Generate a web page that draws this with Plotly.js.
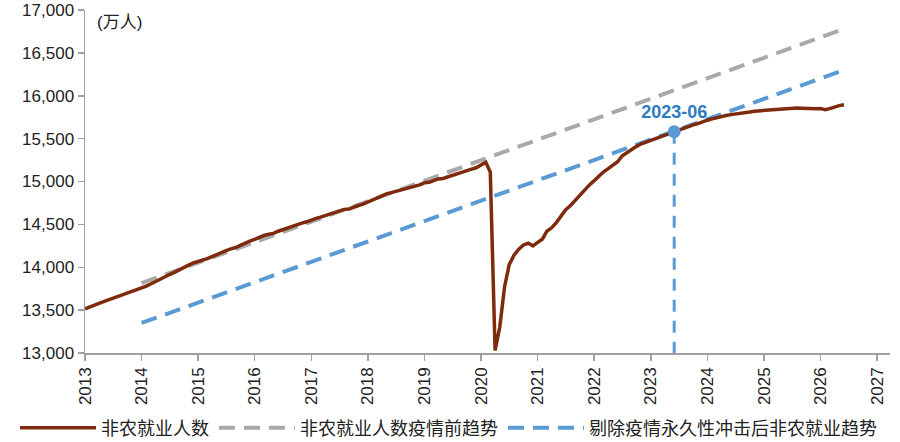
<!DOCTYPE html>
<html>
<head>
<meta charset="utf-8">
<script src="https://cdn.plot.ly/plotly-3.0.1.min.js"></script>
<style>
  html, body { margin: 0; padding: 0; background: #fff; }
  #chart { width: 900px; height: 442px; }
</style>
</head>
<body>
<div id="chart"></div>
<script>
// ---- Data (万人), monthly, starting 2013-01 ----
const startYear = 2013;
const payroll = [
  // 2013
  13515, 13540, 13560, 13580, 13600, 13620, 13635, 13655, 13675, 13700, 13720, 13735,
  // 2014
  13760, 13780, 13805, 13835, 13860, 13890, 13915, 13940, 13965, 13995, 14025, 14050,
  // 2015
  14065, 14085, 14100, 14125, 14150, 14170, 14195, 14215, 14230, 14255, 14285, 14305,
  // 2016
  14325, 14350, 14370, 14385, 14395, 14420, 14440, 14460, 14480, 14495, 14515, 14530,
  // 2017
  14555, 14570, 14585, 14605, 14620, 14640, 14660, 14675, 14680, 14705, 14720, 14735,
  // 2018
  14760, 14790, 14815, 14835, 14855, 14870, 14885, 14900, 14910, 14930, 14945, 14960,
  // 2019
  14985, 14990, 15010, 15030, 15035, 15055, 15075, 15090, 15110, 15125, 15145, 15160,
  // 2020
  15195, 15225, 15110, 13030, 13300, 13770, 14030, 14140, 14210, 14260, 14280, 14250,
  // 2021
  14290, 14330, 14420, 14460, 14520, 14590, 14670, 14720, 14780, 14850, 14910, 14960,
  // 2022
  15010, 15070, 15110, 15150, 15190, 15230, 15300, 15340, 15380, 15410, 15440, 15460,
  // 2023
  15480, 15500, 15525, 15545, 15560, 15580, 15600, 15620, 15640, 15660, 15675, 15700,
  // 2024
  15715, 15730, 15745, 15760, 15770, 15780, 15785, 15795, 15805, 15810, 15820, 15825,
  // 2025
  15830, 15835, 15840, 15845, 15848, 15850, 15855, 15858, 15855, 15850, 15852, 15848,
  // 2026
  15850, 15838, 15850, 15870, 15885, 15895
];

// Trend lines (start / end)
const trendDates = ['2014-01', '2026-06'];
const preCovidTrend = [13815, 16780];
const adjustedTrend = [13350, 16300];

// Highlighted point
const markDate = ['2023-06'];
const markValue = [15580];
const markLabel = ['2023-06'];
const axisFloor = 13000;

const seriesNames = ['非农就业人数', '非农就业人数疫情前趋势', '剔除疫情永久性冲击后非农就业趋势'];
const yearTicks = ['2013','2014','2015','2016','2017','2018','2019','2020','2021','2022','2023','2024','2025','2026','2027'];

// Build monthly date labels
const payrollDates = payroll.map((v, i) => {
  const y = startYear + Math.floor(i / 12);
  const m = (i % 12) + 1;
  return y + '-' + (m < 10 ? '0' + m : m);
});

const FONT = 'Liberation Sans, Arial, Noto Sans CJK SC, sans-serif';
const BROWN = '#7E2A0C';
const GRAY = '#A9A9A9';
const BLUE = '#5B9BD5';

const traces = [
  {
    x: trendDates, y: preCovidTrend, name: seriesNames[1], type: 'scatter', mode: 'lines',
    line: { color: GRAY, width: 4, dash: '16px,9px' }, legendrank: 2, legendgroup: 'g2', hoverinfo: 'skip'
  },
  {
    x: trendDates, y: adjustedTrend, name: seriesNames[2], type: 'scatter', mode: 'lines',
    line: { color: BLUE, width: 4, dash: '16px,9px' }, legendrank: 3, legendgroup: 'g3', hoverinfo: 'skip'
  },
  {
    x: [markDate[0], markDate[0]], y: [markValue[0], axisFloor], type: 'scatter', mode: 'lines',
    line: { color: BLUE, width: 3, dash: '12px,9px' }, showlegend: false, hoverinfo: 'skip'
  },
  {
    x: payrollDates, y: payroll, name: seriesNames[0], type: 'scatter', mode: 'lines',
    line: { color: BROWN, width: 3.5 }, legendrank: 1, legendgroup: 'g1'
  },
  {
    x: markDate, y: markValue, type: 'scatter', mode: 'markers+text',
    text: markLabel, textposition: 'top center',
    textfont: { family: FONT, size: 18, color: '#2E7BBF', weight: 'bold' },
    marker: { color: BLUE, size: 13 }, showlegend: false
  }
];

const layout = {
  width: 900, height: 442,
  margin: { l: 85, r: 10, t: 10, b: 89, autoexpand: false },
  paper_bgcolor: '#fff', plot_bgcolor: '#fff',
  font: { family: FONT, size: 17, color: '#222' },
  showlegend: true,
  legend: {
    orientation: 'h',
    x: -0.087, xanchor: 'left', y: -0.2187, yanchor: 'middle',
    bgcolor: 'rgba(0,0,0,0)',
    font: { family: FONT, size: 18, color: '#222' }, traceorder: 'grouped',
    itemwidth: 76
  },
  xaxis: {
    type: 'date',
    automargin: false,
    range: ['2013-01-01', '2027-03-25'],
    tickmode: 'array',
    tickvals: yearTicks.map(y => y + '-01-01'),
    ticktext: yearTicks,
    tickangle: -90,
    ticks: 'outside', ticklen: 6, tickwidth: 1.5, tickcolor: '#A0A0A0',
    showline: true, linecolor: '#A0A0A0', linewidth: 1.5,
    showgrid: false, zeroline: false,
    tickfont: { family: FONT, size: 17, color: '#222' }
  },
  yaxis: {
    automargin: false,
    range: [13000, 17000],
    tickmode: 'linear', tick0: 13000, dtick: 500,
    tickformat: ',d',
    ticks: 'outside', ticklen: 6, tickwidth: 1.5, tickcolor: '#A0A0A0',
    showline: true, linecolor: '#A0A0A0', linewidth: 1.5,
    showgrid: false, zeroline: false,
    tickfont: { family: FONT, size: 17, color: '#222' }
  },
  annotations: [
    {
      xref: 'paper', yref: 'paper', x: 0.013, y: 0.965, xanchor: 'left', yanchor: 'middle',
      text: '(万人)', showarrow: false, font: { family: FONT, size: 17, color: '#222' }
    }
  ]
};

Plotly.newPlot('chart', traces, layout, { displayModeBar: false, staticPlot: true });
</script>
</body>
</html>
